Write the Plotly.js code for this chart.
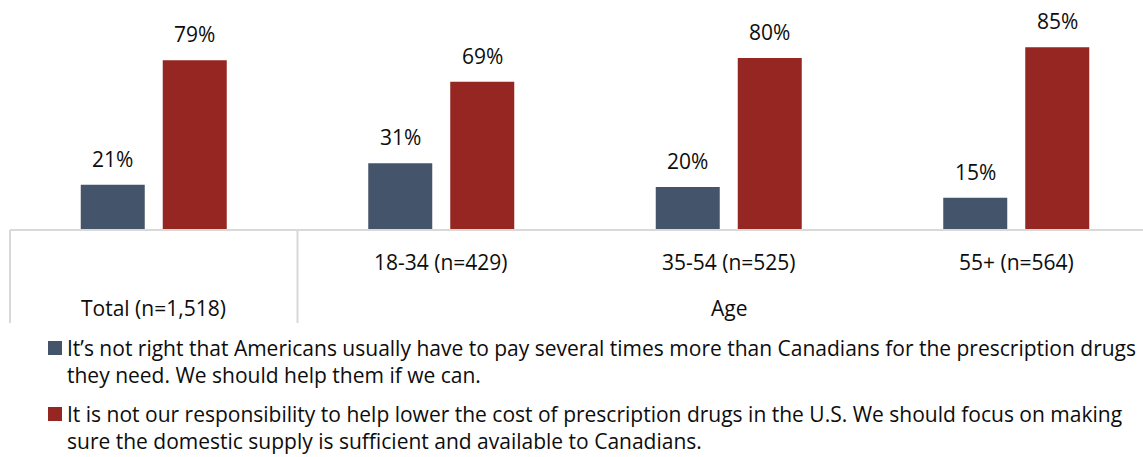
<!DOCTYPE html>
<html>
<head>
<meta charset="utf-8">
<script src="https://cdn.plot.ly/plotly-3.0.1.min.js"></script>
<style>html,body{margin:0;padding:0;background:#fff;}#chart{width:1143px;height:457px;}</style>
</head>
<body>
<div id="chart"></div>
<script>
// ---- data ----
const categories = ["Total (n=1,518)", "18-34 (n=429)", "35-54 (n=525)", "55+ (n=564)"];
const seriesNames = [
  "It’s not right that Americans usually have to pay several times more than Canadians for the prescription drugs they need. We should help them if we can.",
  "It is not our responsibility to help lower the cost of prescription drugs in the U.S. We should focus on making sure the domestic supply is sufficient and available to Canadians."
];
const legendLines1 = ["It’s not right that Americans usually have to pay several times more than Canadians for the prescription drugs", "they need. We should help them if we can."];
const legendLines2 = ["It is not our responsibility to help lower the cost of prescription drugs in the U.S. We should focus on making", "sure the domestic supply is sufficient and available to Canadians."];
const helpValues = [21, 31, 20, 15];
const notOurValues = [79, 69, 80, 85];
const groupLabel = "Age";

// ---- layout constants ----
const W = 1143, H = 457;
const ML = 10, MT = 15, MB = 227;
const catPx = 287.5;
const xMin = -0.5, xMax = xMin + (W - ML) / catPx;
const plotH = H - MT - MB;
const FONT = "Open Sans, sans-serif";
const FS = 21;
const TXT = "#0d0d0d";
const colors = ["#44546A", "#952622"];
const gridCol = "#d9d9d9";

const pxToPaperY = py => (H - MB - py) / plotH;
const pxToPaperX = px => (px - ML) / (W - ML);
const dataToPaperX = x => (x - xMin) / (xMax - xMin);

const xs = categories.map((c, i) => i);
const slotPx = 82;
const offs = slotPx / catPx / 2;

const traces = [
  {type: "bar", x: xs, y: helpValues, name: seriesNames[0], marker: {color: colors[0]}, hoverinfo: "y"},
  {type: "bar", x: xs, y: notOurValues, name: seriesNames[1], marker: {color: colors[1]}, hoverinfo: "y"}
];

const annotations = [];
[helpValues, notOurValues].forEach((vals, s) => {
  vals.forEach((v, i) => {
    annotations.push({x: i + (s === 0 ? -offs : offs), y: v, xref: "x", yref: "y", text: v + "%",
      showarrow: false, yanchor: "middle", yshift: 26, font: {family: FONT, size: FS, color: TXT}});
  });
});
// category labels
categories.forEach((c, i) => {
  annotations.push({x: i, y: pxToPaperY(i === 0 ? 308 : 262), xref: "x", yref: "paper", text: c,
    showarrow: false, yanchor: "middle", font: {family: FONT, size: FS, color: TXT}});
});
annotations.push({x: 2, y: pxToPaperY(308), xref: "x", yref: "paper", text: groupLabel,
  showarrow: false, yanchor: "middle", font: {family: FONT, size: FS, color: TXT}});

// legend (custom)
const legendRows = [[legendLines1, 348], [legendLines2, 414]];
const shapes = [];
legendRows.forEach(([lines, y0], s) => {
  lines.forEach((t, k) => {
    annotations.push({x: pxToPaperX(65), y: pxToPaperY(y0 + k * 27), xref: "paper", yref: "paper", text: t,
      showarrow: false, xanchor: "left", yanchor: "middle", font: {family: FONT, size: FS, color: TXT}});
  });
  shapes.push({type: "rect", xref: "paper", yref: "paper", x0: pxToPaperX(48), x1: pxToPaperX(62),
    y0: pxToPaperY(y0 - 7), y1: pxToPaperY(y0 + 7), fillcolor: colors[s], line: {width: 0}});
});

// axis line and separators
shapes.push({type: "line", xref: "paper", yref: "paper", x0: 0, x1: 1, y0: 0, y1: 0, line: {color: gridCol, width: 2}});
[-0.5, 0.5].forEach(xv => {
  shapes.push({type: "line", xref: "paper", yref: "paper", x0: dataToPaperX(xv), x1: dataToPaperX(xv),
    y0: 0, y1: pxToPaperY(323), line: {color: gridCol, width: 2}});
});

const layout = {
  width: W, height: H,
  margin: {l: ML, r: 0, t: MT, b: MB, pad: 0},
  paper_bgcolor: "#fff", plot_bgcolor: "#fff",
  barmode: "group", bargap: 1 - 2 * slotPx / catPx, bargroupgap: 18 / slotPx,
  showlegend: false,
  xaxis: {range: [xMin, xMax], showticklabels: false, showgrid: false, zeroline: false, showline: false, ticks: "", fixedrange: true},
  yaxis: {range: [0, 100], visible: false, showgrid: false, zeroline: false, fixedrange: true},
  annotations: annotations,
  shapes: shapes,
  font: {family: FONT, size: FS, color: TXT}
};

Plotly.newPlot("chart", traces, layout, {displayModeBar: false, staticPlot: true});
</script>
</body>
</html>
